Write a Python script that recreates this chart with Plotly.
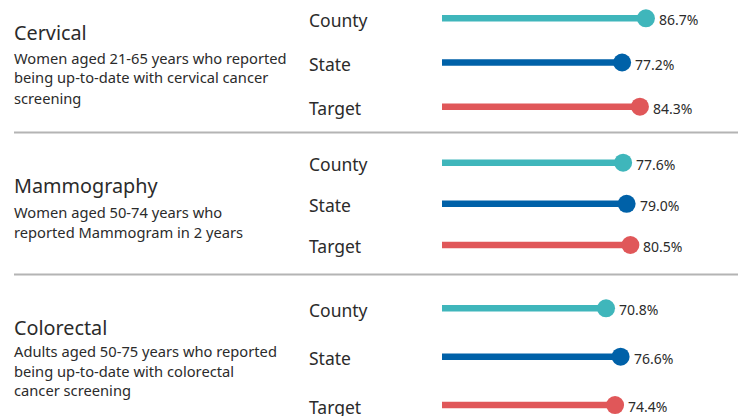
import plotly.graph_objects as go

# ---------------- data ----------------
categories = ["County", "State", "Target"]
panel_titles = ["Cervical", "Mammography", "Colorectal"]
panel_desc = [
    ["Women aged 21-65 years who reported",
     "being up-to-date with cervical cancer",
     "screening"],
    ["Women aged 50-74 years who",
     "reported Mammogram in 2 years"],
    ["Adults aged 50-75 years who reported",
     "being up-to-date with colorectal",
     "cancer screening"],
]
cervical = [86.7, 77.2, 84.3]
mammography = [77.6, 79.0, 80.5]
colorectal = [70.8, 76.6, 74.4]
panel_values = [cervical, mammography, colorectal]

# ---------------- styles / layout ----------------
W, H = 738, 416
colors = ["#3fb6bb", "#0061a8", "#e05759"]
text_color = "#2b2b2b"
FONT = "Noto Sans"
BASELINE = 0

# panel geometry in pixels: (first row centre, row spacing, top px, bottom px)
panel_geom = [
    (18.3, 44.2, 0.0, 128.8),
    (162.7, 41.15, 142.1, 265.6),
    (308.3, 48.4, 284.1, 416.0),
]
title_y = [32.5, 185.5, 327]
desc_y0 = [57.5, 211.5, 351]
desc_step = [20, 20, 19.5]

X_LEFT_PX = 442
X_RANGE = [5.4, 123.4]


def py(px):
    return 1 - px / H


fig = go.Figure()
annotations = []
layout_axes = {}

for i, vals in enumerate(panel_values):
    k = "" if i == 0 else str(i + 1)
    xa, ya = "x" + k, "y" + k
    first, sp, ptop, pbot = panel_geom[i]
    # stems
    for cat, v, c in zip(categories, vals, colors):
        fig.add_trace(go.Scatter(
            x=[BASELINE, v], y=[cat, cat], mode="lines",
            line=dict(color=c, width=6.5), xaxis=xa, yaxis=ya,
            hoverinfo="skip", showlegend=False))
    # dots
    fig.add_trace(go.Scatter(
        x=vals, y=categories, mode="markers",
        marker=dict(color=colors, size=18, line=dict(width=0)),
        cliponaxis=False, xaxis=xa, yaxis=ya, showlegend=False))
    # value labels
    for cat, v in zip(categories, vals):
        annotations.append(dict(
            xref=xa, yref=ya, x=v, y=cat, text=f"{v:.1f}%",
            xanchor="left", yanchor="middle", xshift=11, yshift=-1.5,
            showarrow=False,
            font=dict(family=FONT, size=14, color=text_color)))

    layout_axes["xaxis" + k] = dict(
        domain=[X_LEFT_PX / W, 1], range=X_RANGE, visible=False,
        anchor=ya, fixedrange=True)
    layout_axes["yaxis" + k] = dict(
        domain=[py(pbot), py(ptop)],
        range=[(pbot - first) / sp, (ptop - first) / sp],
        type="category", categoryarray=categories, categoryorder="array",
        visible=False, anchor=xa, fixedrange=True)

    # category labels
    for cat in categories:
        annotations.append(dict(
            xref="paper", yref=ya, x=307 / W, y=cat, text=cat,
            xanchor="left", yanchor="middle", yshift=-1.5, showarrow=False,
            font=dict(family=FONT, size=17.5, color=text_color)))
    # title
    annotations.append(dict(
        xref="paper", yref="paper", x=12 / W, y=py(title_y[i]),
        text=panel_titles[i], xanchor="left", yanchor="middle",
        showarrow=False, font=dict(family=FONT, size=19.8, color=text_color)))
    for j, line in enumerate(panel_desc[i]):
        annotations.append(dict(
            xref="paper", yref="paper", x=12 / W,
            y=py(desc_y0[i] + j * desc_step[i]),
            text=line, xanchor="left", yanchor="middle", showarrow=False,
            font=dict(family=FONT, size=14.7, color=text_color)))

shapes = []
for sy in [132.5, 274.5]:
    shapes.append(dict(type="line", xref="paper", yref="paper",
                       x0=14 / W, x1=1, y0=py(sy), y1=py(sy),
                       line=dict(color="#b4b4b4", width=2)))

fig.update_layout(
    width=W, height=H, margin=dict(l=0, r=0, t=0, b=0),
    paper_bgcolor="white", plot_bgcolor="white",
    annotations=annotations, shapes=shapes, showlegend=False,
    **layout_axes)

fig.write_html(
    "out.html", config={"displayModeBar": False},
    post_script="document.body.style.margin='0';document.body.style.overflow='hidden';")
